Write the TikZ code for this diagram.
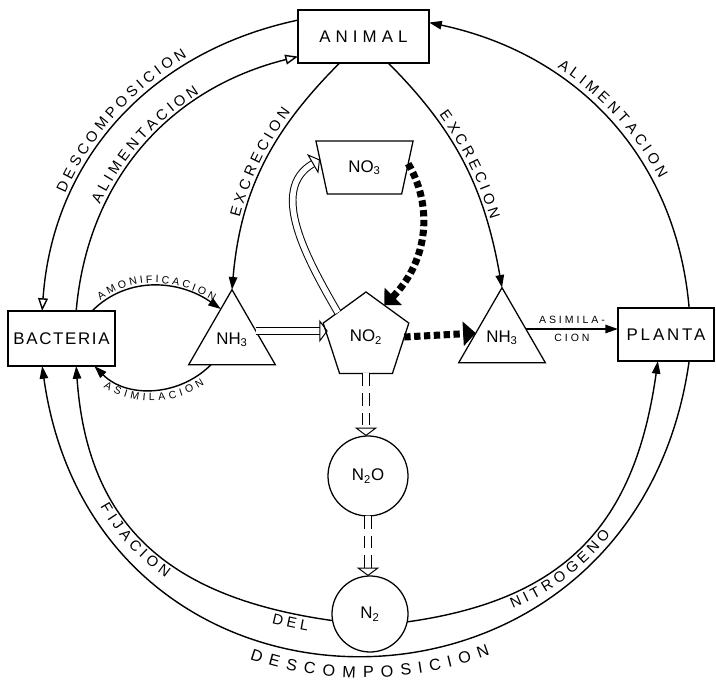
\documentclass[tikz,border=0pt]{standalone}
\usepackage{fontspec}
\setmainfont{Liberation Sans}
\newfontfamily\spacedfont[LetterSpace=28]{Liberation Sans}
\newcommand\arcfont{\fontsize{10.5}{12}\selectfont\kern2.5pt}
\newcommand\tinyfont{\fontsize{7.5}{9}\selectfont\kern1.9pt}
\newcommand\bottomfont{\fontsize{11.5}{13}\selectfont\kern4.4pt}
\newcommand\smallfont{\spacedfont\fontsize{7.5}{9}\selectfont}
\usetikzlibrary{arrows.meta, shapes.geometric, decorations.text}

\begin{document}
\begin{tikzpicture}[
    x=0.025cm, y=0.025cm,
    box/.style={
        rectangle, draw=black, line width=0.9pt,
        inner sep=0pt, outer sep=0pt,
        font=\fontsize{12}{14}\selectfont
    },
    chem/.style={
        draw=black, line width=0.9pt,
        inner sep=0pt, outer sep=0pt,
        font=\fontsize{12}{14}\selectfont
    },
    tri/.style={chem, regular polygon, regular polygon sides=3, minimum size=2.5cm},
    line/.style={line width=1pt, -{Triangle[length=9pt, width=6pt]}},
    hollow/.style={line width=1pt, -{Triangle[open, length=9pt, width=7pt]}},
    twin/.style={double, double distance=4pt, line width=0.7pt,
        -{Triangle[open, length=6pt, width=16pt, line width=0.7pt]}},
    dots/.style={line width=5pt, dash pattern=on 4.5pt off 2.5pt,
        -{Triangle[length=9pt, width=17pt]}},
    along/.style 2 args={postaction={decorate, decoration={text along path,
        text align={#1}, text={#2}}}}
]

\useasboundingbox (0,0) rectangle (716,683);

\node[box, minimum width=3.28cm, minimum height=1.33cm] (animal) at (363.5,646.5)
    {\addfontfeature{LetterSpace=30}ANIMAL};
\node[box, minimum width=2.68cm, minimum height=1.38cm] (bacteria) at (61.5,344.5)
    {\addfontfeature{LetterSpace=10}BACTERIA};
\node[box, minimum width=2.4cm, minimum height=1.33cm] (planta) at (666,348.5)
    {\addfontfeature{LetterSpace=17}PLANTA};

\node[tri] (nh3L) at (232,343.3) {NH\textsubscript{3}};
\node[tri] (nh3R) at (502,345.3) {NH\textsubscript{3}};
\node[chem, regular polygon, regular polygon sides=5, minimum size=2.25cm] (no2)
    at (366,346) {NO\textsubscript{2}};
\node[chem, trapezium, trapezium angle=71, shape border rotate=180,
    trapezium stretches=true, minimum width=2.43cm, minimum height=1.33cm] (no3)
    at (364.5,515.5) {NO\textsubscript{3}};
\node[chem, circle, minimum size=2cm] (n2o) at (368,207) {N\textsubscript{2}O};
\node[chem, circle, minimum size=1.9cm] (n2) at (370,69) {N\textsubscript{2}};

% Upper arcs
\draw[hollow, along={center}{|\arcfont|DESCOMPOSICION}, decoration={reverse path, raise=4pt}]
    (animal.166) to[out=192, in=86] (bacteria.125);
\draw[hollow, along={center}{|\arcfont|ALIMENTACION}, decoration={raise=3pt}]
    (bacteria.62) to[out=85, in=194] (animal.197);
\draw[line, along={center}{|\arcfont|ALIMENTACION}, decoration={reverse path, raise=5pt}]
    (planta.49) to[out=95, in=-12] (animal.12);
\draw[line, along={center}{|\arcfont|EXCRECION}, decoration={reverse path, raise=3pt}]
    (animal.228) to[out=225, in=85] (nh3L.corner 1);
\draw[line, along={center}{|\arcfont|EXCRECION}, decoration={raise=3pt}]
    (animal.-47) to[out=-45, in=100] (nh3R.corner 1);

% Bacteria and NH3
\draw[line, along={center}{|\tinyfont|AMONIFICACION}, decoration={raise=2pt}]
    (bacteria.42) to[out=45, in=145] (nh3L.110);
\draw[line, along={center}{|\tinyfont|ASIMILACION}, decoration={reverse path, raise=-8pt}]
    (nh3L.230) to[out=225, in=-45] (bacteria.-40);
\draw[line] (nh3R.20) -- (nh3R.20 -| planta.west)
    node[midway, above, font=\smallfont] (asim1) {ASIMILA-}
    node[midway, below, font=\smallfont] (asim2) {CION};

% Nitrogen compounds
\draw[twin] (nh3L.20) -- (nh3L.20 -| no2.west);
\draw[twin] (no2.139) to[out=120, in=210] (no3.170);
\draw[dots] (no3.5) to[out=-60, in=45] (no2.60);
\draw[dots] (no2.east) -- (nh3R.170);
\draw[twin, dash pattern=on 9pt off 5pt] (no2.south) -- (no2.south |- n2o.north);
\draw[twin, dash pattern=on 9pt off 5pt] (n2o.south) -- (n2o.south |- n2.north);

% Lower arcs
\draw[line, along={center}{|\bottomfont|DESCOMPOSICION}, decoration={reverse path, raise=-16pt}]
    (planta.-49) to[out=262, in=278, looseness=1.55] (bacteria.235);
\draw[line, along={left, left indent=3.4cm}{|\arcfont|FIJACION},
    along={left, left indent=8.45cm}{|\arcfont|DEL}, decoration={reverse path, raise=-10pt}]
    (n2.190) to[out=172, in=-86, looseness=1.15] (bacteria.-62);
\draw[line, along={left, left indent=2.5cm}{|\arcfont|NITROGENO}, decoration={raise=-10pt}]
    (n2.-12) to[out=8, in=-98, looseness=1.15] (planta.-107);

\end{tikzpicture}
\end{document}
